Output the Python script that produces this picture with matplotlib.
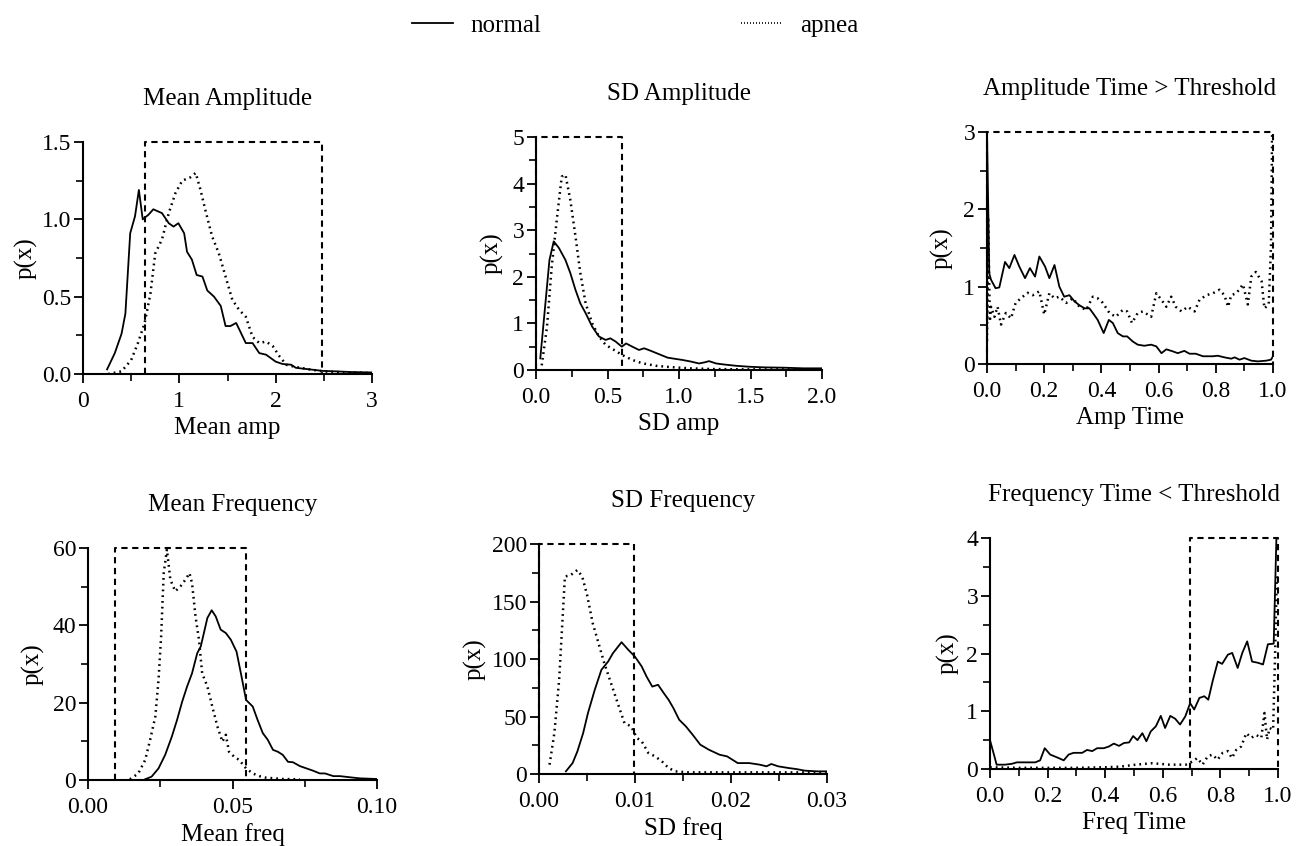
import matplotlib
matplotlib.use('Agg')
import matplotlib.pyplot as plt
from matplotlib.ticker import MultipleLocator
from matplotlib.lines import Line2D

plt.rcParams['font.family'] = ['Liberation Serif', 'DejaVu Serif']

# ---- Mean Amplitude ----
ma_norm_x = [0.25, 0.33, 0.40, 0.44, 0.49, 0.54, 0.58, 0.62, 0.68, 0.73, 0.82, 0.89, 0.94, 0.99,
             1.05, 1.08, 1.13, 1.18, 1.24, 1.29, 1.36, 1.43, 1.48, 1.53, 1.59, 1.64, 1.69, 1.76,
             1.83, 1.90, 2.00, 2.07, 2.16, 2.21, 2.35, 2.49, 2.63, 2.77, 3.00]
ma_norm_y = [0.03, 0.135, 0.26, 0.39, 0.91, 1.02, 1.19, 1.00, 1.03, 1.065, 1.04, 0.975, 0.953, 0.975,
             0.91, 0.79, 0.74, 0.64, 0.63, 0.54, 0.50, 0.44, 0.31, 0.31, 0.33, 0.265, 0.20, 0.20,
             0.135, 0.125, 0.08, 0.065, 0.06, 0.04, 0.03, 0.02, 0.017, 0.013, 0.01]
ma_apn_x = [0.26, 0.40, 0.50, 0.57, 0.64, 0.70, 0.75, 0.82, 0.89, 0.96, 1.03, 1.11, 1.17, 1.22,
            1.27, 1.34, 1.41, 1.48, 1.55, 1.62, 1.69, 1.76, 1.83, 1.90, 1.97, 2.04, 2.11, 2.21,
            2.35, 2.49, 2.60, 2.77, 3.00]
ma_apn_y = [0.0, 0.017, 0.09, 0.20, 0.33, 0.52, 0.78, 0.87, 1.04, 1.17, 1.25, 1.27, 1.30, 1.19,
            1.06, 0.89, 0.78, 0.63, 0.48, 0.415, 0.37, 0.24, 0.20, 0.21, 0.18, 0.114, 0.06, 0.045,
            0.03, 0.017, 0.013, 0.01, 0.006]
ma_box = [0.64, 2.48, 1.5]

# ---- SD Amplitude ----
sa_norm_x = [0.03, 0.094, 0.124, 0.16, 0.206, 0.24, 0.276, 0.31, 0.347, 0.393, 0.44, 0.487, 0.52,
             0.557, 0.60, 0.63, 0.674, 0.72, 0.756, 0.80, 0.86, 0.92, 0.98, 1.025, 1.085, 1.14,
             1.18, 1.21, 1.26, 1.31, 1.40, 1.49, 1.59, 1.73, 1.87, 2.0]
sa_norm_y = [0.25, 2.36, 2.76, 2.62, 2.36, 2.08, 1.72, 1.43, 1.22, 0.93, 0.72, 0.645, 0.68,
             0.61, 0.50, 0.57, 0.50, 0.43, 0.466, 0.415, 0.34, 0.265, 0.236, 0.215, 0.18, 0.14,
             0.165, 0.19, 0.14, 0.12, 0.09, 0.07, 0.057, 0.05, 0.036, 0.036]
sa_apn_x = [0.04, 0.077, 0.11, 0.148, 0.18, 0.206, 0.24, 0.276, 0.31, 0.347, 0.393, 0.44, 0.487,
            0.546, 0.604, 0.674, 0.745, 0.84, 0.93, 1.07, 1.24, 1.47, 1.70, 2.0]
sa_apn_y = [0.1, 0.93, 2.22, 3.3, 4.15, 4.19, 3.65, 2.87, 2.08, 1.43, 1.0, 0.72, 0.54,
            0.43, 0.32, 0.215, 0.143, 0.09, 0.065, 0.036, 0.02, 0.014, 0.014, 0.014]
sa_box = [0.0, 0.6, 5.0]

# ---- Amplitude Time > Threshold ----
at_norm_x = [0.0, 0.008, 0.014, 0.03, 0.043, 0.063, 0.078, 0.096, 0.113, 0.133, 0.15, 0.168,
             0.183, 0.203, 0.218, 0.236, 0.253, 0.27, 0.288, 0.306, 0.323, 0.341, 0.358, 0.37,
             0.387, 0.408, 0.426, 0.44, 0.457, 0.475, 0.49, 0.51, 0.527, 0.55, 0.574, 0.592,
             0.61, 0.627, 0.65, 0.667, 0.69, 0.708, 0.73, 0.755, 0.79, 0.807, 0.83, 0.854,
             0.866, 0.883, 0.90, 0.924, 0.947, 0.976, 0.993, 1.0]
at_norm_y = [3.0, 1.17, 1.09, 0.98, 0.99, 1.32, 1.24, 1.41, 1.26, 1.11, 1.24, 1.13,
             1.39, 1.26, 1.11, 1.28, 1.0, 0.87, 0.89, 0.81, 0.76, 0.72, 0.72, 0.66,
             0.57, 0.40, 0.57, 0.53, 0.40, 0.357, 0.357, 0.29, 0.25, 0.236, 0.25, 0.228,
             0.14, 0.19, 0.163, 0.14, 0.17, 0.133, 0.133, 0.10, 0.10, 0.107, 0.086, 0.069,
             0.086, 0.056, 0.077, 0.043, 0.034, 0.043, 0.056, 0.10]
at_apn_x = [0.0, 0.004, 0.01, 0.014, 0.026, 0.037, 0.049, 0.066, 0.084, 0.10, 0.125, 0.142,
            0.16, 0.183, 0.20, 0.218, 0.236, 0.253, 0.277, 0.30, 0.323, 0.347, 0.37, 0.387,
            0.405, 0.428, 0.45, 0.475, 0.49, 0.507, 0.527, 0.545, 0.574, 0.592, 0.61, 0.627,
            0.644, 0.66, 0.68, 0.702, 0.726, 0.743, 0.767, 0.79, 0.813, 0.83, 0.843, 0.854,
            0.872, 0.895, 0.912, 0.924, 0.94, 0.96, 0.97, 0.985, 0.993, 0.997]
at_apn_y = [0.3, 1.9, 0.55, 0.74, 0.61, 0.74, 0.51, 0.66, 0.59, 0.79, 0.87, 0.92,
            0.89, 0.94, 0.64, 0.915, 0.85, 0.87, 0.79, 0.85, 0.74, 0.70, 0.87, 0.85,
            0.79, 0.66, 0.61, 0.70, 0.68, 0.53, 0.66, 0.68, 0.61, 0.915, 0.83, 0.74,
            0.87, 0.74, 0.68, 0.74, 0.68, 0.83, 0.89, 0.915, 0.96, 0.89, 0.74, 0.89,
            0.915, 1.03, 0.77, 1.13, 1.19, 1.07, 0.72, 0.77, 1.52, 3.0]
at_box = [0.0, 1.0, 3.0]

# ---- Mean Frequency ----
mf_norm_x = [0.0198, 0.022, 0.0244, 0.0267, 0.029, 0.0308, 0.0326, 0.0343, 0.036, 0.0378, 0.039,
             0.0401, 0.0413, 0.0428, 0.0442, 0.0459, 0.0477, 0.0494, 0.0514, 0.0529, 0.0547,
             0.057, 0.0587, 0.0605, 0.0622, 0.064, 0.0657, 0.0674, 0.0692, 0.0709, 0.0733,
             0.0756, 0.0779, 0.0802, 0.082, 0.0849, 0.0872, 0.0907, 0.094, 0.10]
mf_norm_y = [0.2, 0.86, 3.0, 6.5, 11.2, 15.5, 20.3, 24.2, 27.6, 32.8, 34.5,
             38.0, 41.9, 43.9, 42.3, 38.9, 38.0, 36.3, 33.2, 27.6, 20.7,
             19.0, 15.5, 12.1, 10.4, 7.8, 7.3, 6.5, 4.7, 4.6, 3.6,
             3.0, 2.4, 1.7, 1.7, 1.0, 1.0, 0.7, 0.43, 0.26]
mf_apn_x = [0.0145, 0.0174, 0.0198, 0.0215, 0.0233, 0.0244, 0.0253, 0.0262, 0.0273, 0.0285,
            0.0302, 0.032, 0.0337, 0.0351, 0.036, 0.0372, 0.0384, 0.0395, 0.0413, 0.043,
            0.0448, 0.0465, 0.0477, 0.0488, 0.0506, 0.0523, 0.0547, 0.057, 0.0593, 0.0616,
            0.0674, 0.0733]
mf_apn_y = [0.17, 1.7, 5.2, 10.4, 16.4, 25.9, 37.1, 53.5, 59.6, 51.8,
            48.8, 50.1, 51.8, 53.5, 50.9, 42.3, 36.3, 27.6, 24.2, 19.0,
            13.8, 9.9, 11.7, 7.3, 6.0, 5.2, 3.0, 1.7, 1.0, 0.6,
            0.26, 0.17]
mf_box = [0.0093, 0.0547, 60.0]

# ---- SD Frequency ----
sf_norm_x = [0.0028, 0.0035, 0.004, 0.0046, 0.0051, 0.0058, 0.0065, 0.0072, 0.0077, 0.0086,
             0.0093, 0.010, 0.0107, 0.0112, 0.0118, 0.0124, 0.013, 0.0135, 0.014, 0.0146,
             0.0153, 0.016, 0.0168, 0.0177, 0.0188, 0.0196, 0.0207, 0.0219, 0.023, 0.0237,
             0.0242, 0.0249, 0.026, 0.0268, 0.0277, 0.029, 0.030]
sf_norm_y = [2.3, 9.5, 19.7, 35.6, 53.0, 73.0, 90.6, 97.8, 105.0, 114.6,
             108.0, 102.0, 93.5, 84.8, 76.0, 77.6, 70.3, 64.5, 57.3, 47.2,
             41.4, 34.2, 25.5, 21.1, 16.8, 15.3, 9.5, 9.5, 8.1, 6.7,
             8.7, 6.7, 5.2, 4.3, 2.9, 2.3, 2.3]
sf_apn_x = [0.0011, 0.0016, 0.0021, 0.0027, 0.0033, 0.004, 0.0045, 0.005, 0.0056, 0.0061,
            0.0068, 0.0075, 0.0082, 0.0089, 0.0096, 0.0102, 0.0107, 0.0114, 0.0121, 0.0128,
            0.0135, 0.0142, 0.0156, 0.0198, 0.030]
sf_apn_y = [8.1, 35.6, 82.0, 171.7, 173.0, 177.4, 171.7, 156.0, 131.0, 116.6,
            96.4, 79.0, 61.6, 44.3, 41.4, 31.3, 28.4, 18.2, 15.3, 11.0,
            5.2, 2.3, 1.4, 1.4, 1.4]
sf_box = [0.0, 0.0099, 200.0]

# ---- Frequency Time < Threshold ----
ft_norm_x = [0.0, 0.012, 0.023, 0.052, 0.076, 0.093, 0.122, 0.157, 0.174, 0.19, 0.209, 0.238,
             0.256, 0.273, 0.29, 0.32, 0.337, 0.355, 0.372, 0.395, 0.413, 0.43, 0.448, 0.465,
             0.483, 0.497, 0.512, 0.529, 0.543, 0.558, 0.576, 0.593, 0.608, 0.626, 0.643, 0.66,
             0.678, 0.695, 0.709, 0.727, 0.744, 0.758, 0.773, 0.791, 0.806, 0.826, 0.841, 0.86,
             0.876, 0.893, 0.91, 0.93, 0.948, 0.965, 0.985, 0.995]
ft_norm_y = [0.5, 0.28, 0.075, 0.075, 0.09, 0.115, 0.115, 0.115, 0.15, 0.36, 0.25, 0.19,
             0.15, 0.25, 0.28, 0.28, 0.33, 0.31, 0.36, 0.36, 0.39, 0.44, 0.40, 0.45,
             0.46, 0.57, 0.50, 0.62, 0.48, 0.65, 0.74, 0.92, 0.71, 0.92, 0.87, 0.77,
             0.91, 1.14, 1.03, 1.23, 1.26, 1.20, 1.52, 1.86, 1.82, 1.98, 2.01, 1.75,
             2.01, 2.21, 1.86, 1.84, 1.81, 2.16, 2.17, 4.1]
ft_apn_x = [0.0, 0.1, 0.2, 0.3, 0.4, 0.45, 0.506, 0.564, 0.622, 0.68, 0.703, 0.72, 0.738,
            0.756, 0.773, 0.79, 0.808, 0.826, 0.84, 0.855, 0.872, 0.89, 0.907, 0.924, 0.942,
            0.953, 0.962, 0.971, 0.983, 0.99, 0.996]
ft_apn_y = [0.03, 0.02, 0.02, 0.02, 0.03, 0.04, 0.075, 0.10, 0.075, 0.075, 0.13, 0.19, 0.075,
            0.22, 0.25, 0.16, 0.28, 0.31, 0.19, 0.33, 0.39, 0.62, 0.54, 0.59, 0.54,
            0.97, 0.51, 0.71, 0.68, 2.0, 3.4]
ft_box = [0.695, 1.0, 4.0]

# panels: title, xlabel, data, box, limits, ticks, pixel rect (left, top, right, bottom)
panels = [
    dict(title='Mean Amplitude', xlabel='Mean amp',
         norm=(ma_norm_x, ma_norm_y), apn=(ma_apn_x, ma_apn_y), box=ma_box,
         xlim=(0, 3), ylim=(0, 1.5), xmaj=1, xmin=0.5, ymaj=0.5, ymin=0.25,
         xfmt='{:.0f}', yfmt='{:.1f}', rect=(83, 142, 372, 374), ylab_dx=57),
    dict(title='SD Amplitude', xlabel='SD amp',
         norm=(sa_norm_x, sa_norm_y), apn=(sa_apn_x, sa_apn_y), box=sa_box,
         xlim=(0, 2), ylim=(0, 5), xmaj=0.5, xmin=0.25, ymaj=1, ymin=0.5,
         xfmt='{:.1f}', yfmt='{:.0f}', rect=(536, 137, 822, 370), ylab_dx=44),
    dict(title='Amplitude Time > Threshold', xlabel='Amp Time',
         norm=(at_norm_x, at_norm_y), apn=(at_apn_x, at_apn_y), box=at_box,
         xlim=(0, 1), ylim=(0, 3), xmaj=0.2, xmin=0.1, ymaj=1, ymin=0.5,
         xfmt='{:.1f}', yfmt='{:.0f}', rect=(987, 132, 1273, 364), ylab_dx=45),
    dict(title='Mean Frequency', xlabel='Mean freq',
         norm=(mf_norm_x, mf_norm_y), apn=(mf_apn_x, mf_apn_y), box=mf_box,
         xlim=(0, 0.1), ylim=(0, 60), xmaj=0.05, xmin=0.025, ymaj=20, ymin=10,
         xfmt='{:.2f}', yfmt='{:.0f}', rect=(88, 548, 377, 780), ylab_dx=55),
    dict(title='SD Frequency', xlabel='SD freq',
         norm=(sf_norm_x, sf_norm_y), apn=(sf_apn_x, sf_apn_y), box=sf_box,
         xlim=(0, 0.03), ylim=(0, 200), xmaj=0.01, xmin=0.005, ymaj=50, ymin=25,
         xfmt='{:.2f}', yfmt='{:.0f}', rect=(539, 544, 827, 774), ylab_dx=64),
    dict(title='Frequency Time < Threshold', xlabel='Freq Time',
         norm=(ft_norm_x, ft_norm_y), apn=(ft_apn_x, ft_apn_y), box=ft_box,
         xlim=(0, 1), ylim=(0, 4), xmaj=0.2, xmin=0.1, ymaj=1, ymin=0.5,
         xfmt='{:.1f}', yfmt='{:.0f}', rect=(990, 538, 1278, 769), ylab_dx=42),
]

W, H = 1296, 846
fig = plt.figure(figsize=(W / 100, H / 100), dpi=100)

for p in panels:
    l, t, r, b = p['rect']
    ax = fig.add_axes([l / W, 1 - b / H, (r - l) / W, (b - t) / H])
    ax.plot(p['norm'][0], p['norm'][1], color='black', lw=1.3, ls='-')
    ax.plot(p['apn'][0], p['apn'][1], color='black', lw=1.8, ls=(0, (0.7, 1.6)))
    x0, x1, top = p['box']
    ax.plot([x0, x0, x1, x1], [0, top, top, 0], color='black', lw=1.5,
            ls=(0, (3, 2.2)), clip_on=False)
    ax.set_xlim(*p['xlim'])
    ax.set_ylim(*p['ylim'])
    for s in ('top', 'right'):
        ax.spines[s].set_visible(False)
    for s in ('left', 'bottom'):
        ax.spines[s].set_linewidth(1.5)
    ax.xaxis.set_major_locator(MultipleLocator(p['xmaj']))
    ax.xaxis.set_minor_locator(MultipleLocator(p['xmin']))
    ax.yaxis.set_major_locator(MultipleLocator(p['ymaj']))
    ax.yaxis.set_minor_locator(MultipleLocator(p['ymin']))
    ax.xaxis.set_major_formatter(lambda v, pos, f=p['xfmt']: f.format(v))
    ax.yaxis.set_major_formatter(lambda v, pos, f=p['yfmt']: f.format(v))
    ax.tick_params(which='major', length=6.5, width=1.3, labelsize=17, direction='out')
    ax.tick_params(which='minor', length=5, width=1.2, direction='out')
    ax.tick_params(axis='x', which='major', pad=6)
    ax.tick_params(axis='y', which='major', pad=2)
    ax.set_xlabel(p['xlabel'], fontsize=18)
    ax.set_ylabel('p(x)', fontsize=18)
    hpx, wpx = b - t, r - l
    ax.xaxis.set_label_coords(0.5, -43 / hpx)
    ax.yaxis.set_label_coords(-(p['ylab_dx'] - 12) / wpx, 0.5)
    ax.annotate(p['title'], xy=(0.5, 1), xycoords='axes fraction',
                xytext=(0, 43 * 0.72), textcoords='offset points',
                ha='center', va='center', fontsize=18)

handles = [Line2D([], [], color='black', lw=1.3, ls='-'),
           Line2D([], [], color='black', lw=1.2, ls=(0, (0.6, 1.2)))]
fig.legend(handles, ['normal', 'apnea'], loc='center', bbox_to_anchor=(635 / W, 1 - 26 / H),
           ncol=2, frameon=False, fontsize=18, handlelength=1.65, handletextpad=0.7,
           columnspacing=8.0)

fig.savefig('out.png', dpi=100)
